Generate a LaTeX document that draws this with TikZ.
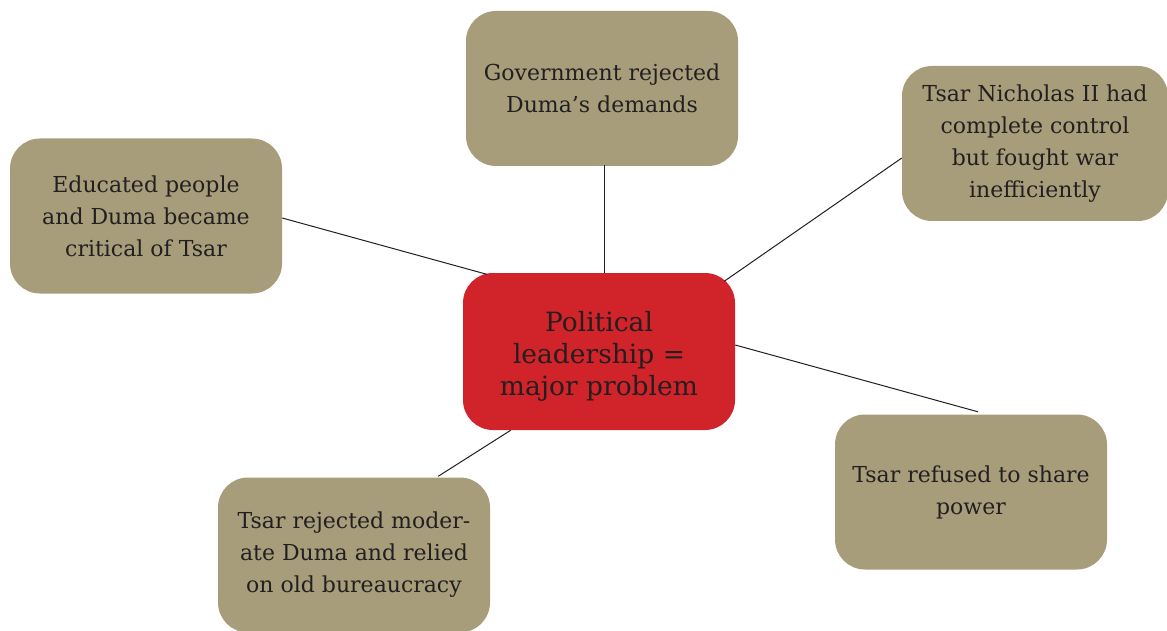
\documentclass[tikz,border=0pt]{standalone}
\usepackage{fontspec}
\setmainfont{DejaVu Serif}
\usetikzlibrary{calc}
\definecolor{tan}{HTML}{A89D7B}
\definecolor{leadred}{HTML}{D0232A}
\definecolor{ink}{HTML}{231F20}
\begin{document}
\begin{tikzpicture}[x=1pt,y=-1pt,
  box/.style={rectangle, rounded corners=30pt, fill=tan, text=ink,
    minimum width=272pt, minimum height=155pt, align=center, inner sep=0pt,
    font=\fontsize{22}{32}\selectfont},
  core/.style={box, fill=leadred, minimum height=157pt},
  coretext/.style={text=ink, align=center, inner sep=0pt, yshift=-4.5pt,
    font=\fontsize{26.5}{32}\selectfont},
  link/.style={draw=ink, line width=1pt}]
\useasboundingbox (0,0) rectangle (1167,631);
\node[box] (t) at (602,88.5) {Government rejected\\Duma’s demands};
\node[box, minimum width=266pt] (tr) at (1035,143.5) {Tsar Nicholas II had\\complete control\\but fought war\\inefficiently};
\node[box] (l) at (146,216) {Educated people\\and Duma became\\critical of Tsar};
\node[core, label={[coretext]center:Political\\leadership =\\major problem}] (c) at (599,351.5) {};
\node[box] (br) at (971,492) {Tsar refused to share\\power};
\node[box] (bl) at (354,555) {Tsar rejected moder-\\ate Duma and relied\\on old bureaucracy};
\draw[link] ($(t.south)+(2,-1)$) -- ($(c.north)+(5,0)$);
\draw[link] ($(l.east)+(0,2)$) -- ($(c.north west)+(24,1.5)$);
\draw[link] ($(tr.west)+(0,14.5)$) -- ($(c.north east)+(-11,8.5)$);
\draw[link] ($(c.east)+(0,-6.5)$) -- ($(br.north)+(7,-2.5)$);
\draw[link] ($(c.south west)+(48,0)$) -- ($(bl.north east)+(-52,-1)$);
\end{tikzpicture}
\end{document}
